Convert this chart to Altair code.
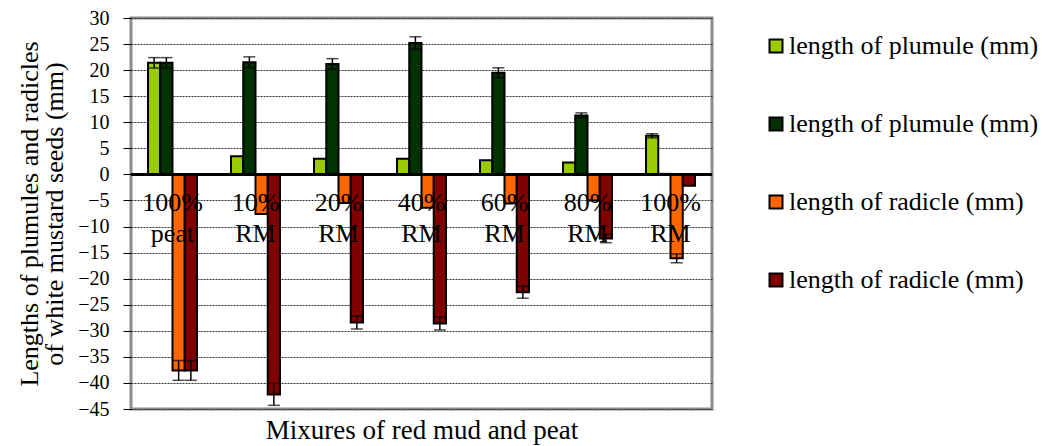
import altair as alt
import pandas as pd

categories = ["100%|peat", "10%|RM", "20%|RM", "40%|RM", "60%|RM", "80%|RM", "100%|RM"]
series_keys = ["s1", "s2", "s3", "s4"]
series_names = ["length of plumule (mm)", "length of plumule (mm)",
                "length of radicle (mm)", "length of radicle (mm)"]
series_colors = ["#99CC00", "#003300", "#FF6600", "#800000"]

plumule_a = [21.4, 3.5, 3.0, 3.0, 2.7, 2.3, 7.4]
plumule_a_err = [1.0, 0.0, 0.0, 0.0, 0.0, 0.0, 0.4]
plumule_b = [21.4, 21.5, 21.2, 25.2, 19.5, 11.3, 0.1]
plumule_b_err = [1.0, 1.05, 1.0, 1.2, 0.95, 0.5, 0.0]
radicle_a = [-37.6, -7.6, -5.5, -6.4, -5.6, -5.0, -16.1]
radicle_a_err = [1.9, 0.0, 0.0, 0.0, 0.0, 0.0, 0.85]
radicle_b = [-37.6, -42.2, -28.4, -28.6, -22.6, -12.3, -2.2]
radicle_b_err = [1.9, 2.1, 1.25, 1.25, 1.15, 0.8, 0.0]

values = [plumule_a, plumule_b, radicle_a, radicle_b]
errors = [plumule_a_err, plumule_b_err, radicle_a_err, radicle_b_err]

rows = []
for key, vals, errs in zip(series_keys, values, errors):
    for cat, v, e in zip(categories, vals, errs):
        rows.append({"category": cat, "series": key, "value": v,
                     "lo": v - e, "hi": v + e, "err": e})
df = pd.DataFrame(rows)

FONT = "Liberation Serif"

x_axis = alt.Axis(title="Mixures of red mud and peat", ticks=False, domain=False,
                  labelAngle=0, labelPadding=-220, labelBaseline="top",
                  labelExpr="split(datum.label, '|')", labelLineHeight=31,
                  labelOverlap=False, labelBound=False,
                  titleY=21, titleBaseline="middle", zindex=1, grid=False)
x_enc = alt.X("category:N", sort=categories,
              scale=alt.Scale(paddingInner=0.41, paddingOuter=0.205), axis=x_axis)
xoff = alt.XOffset("series:N", sort=series_keys,
                   scale=alt.Scale(paddingInner=0, paddingOuter=0))

y_scale = alt.Scale(domain=[-45, 30], nice=False, zero=False)
y_title = ["Lengths of  plumules and radicles", "of white mustard seeds (mm)"]
y_axis = alt.Axis(title=y_title, values=list(range(-45, 31, 5)), labelOverlap=False)

legend_expr = ("datum.label == 's1' ? '%s' : datum.label == 's2' ? '%s' : "
               "datum.label == 's3' ? '%s' : '%s'") % tuple(series_names)

bars = alt.Chart(df).mark_bar(stroke="black", strokeWidth=2).encode(
    x=x_enc,
    xOffset=xoff,
    y=alt.Y("value:Q", scale=y_scale, axis=y_axis, title=y_title),
    color=alt.Color("series:N", sort=series_keys,
                    scale=alt.Scale(domain=series_keys, range=series_colors),
                    legend=alt.Legend(title=None, orient="none", legendX=632, legendY=15,
                                      labelExpr=legend_expr)),
)

err_df = df[df["err"] > 0]
rules = alt.Chart(err_df).mark_rule(color="black", strokeWidth=1.5).encode(
    x=x_enc, xOffset=xoff,
    y=alt.Y("lo:Q", scale=y_scale, axis=y_axis, title=y_title), y2="hi:Q")
cap_lo = alt.Chart(err_df).mark_tick(color="black", thickness=1.5, size=12).encode(
    x=x_enc, xOffset=xoff,
    y=alt.Y("lo:Q", scale=y_scale, axis=y_axis, title=y_title))
cap_hi = alt.Chart(err_df).mark_tick(color="black", thickness=1.5, size=12).encode(
    x=x_enc, xOffset=xoff,
    y=alt.Y("hi:Q", scale=y_scale, axis=y_axis, title=y_title))

zero = alt.Chart(df).mark_rule(color="black", strokeWidth=1.5).encode(
    y=alt.datum(0, scale=y_scale, axis=y_axis, title=y_title))

chart = alt.layer(bars, zero, rules, cap_lo, cap_hi).properties(
    width=581, height=391, background="white",
    autosize=alt.AutoSizeParams(type="none"),
    padding={"left": 123, "top": 10, "right": 326, "bottom": 36}
).configure_view(
    stroke="#8c8c8c", strokeWidth=3
).configure_axis(
    labelFont=FONT, labelFontSize=20, labelColor="black",
    titleFont=FONT, titleFontSize=26, titleFontWeight="normal", titleColor="black"
).configure_axisY(
    grid=True, gridDash=[2, 1], gridColor="#333333", gridWidth=1, domain=False,
    tickColor="black", tickSize=8, labelPadding=14, titleLineHeight=25, titlePadding=10,
    labelOverlap=False
).configure_axisX(
    labelFontSize=26, titleFontSize=27
).configure_legend(
    symbolType="square", symbolSize=169, symbolStrokeColor="black",
    symbolStrokeWidth=2, labelFontSize=26, labelFont=FONT, labelColor="black",
    labelLimit=0, rowPadding=52, padding=0, labelOffset=0
)

chart.save("out.html", embed_options={"renderer": "svg", "actions": False})
